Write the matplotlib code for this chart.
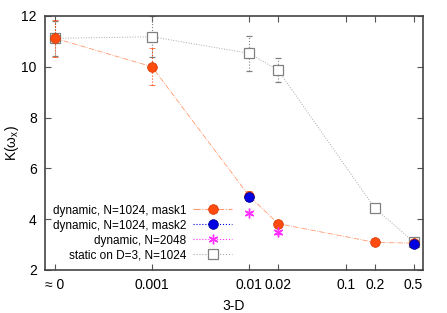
import matplotlib
matplotlib.use('Agg')
import matplotlib.pyplot as plt
import numpy as np
from matplotlib.lines import Line2D

plt.rcParams['font.family'] = ['Liberation Sans', 'DejaVu Sans']
plt.rcParams['mathtext.fontset'] = 'custom'
plt.rcParams['mathtext.rm'] = 'Liberation Sans'

# 3-D, "≈ 0" stands at 1e-4
x_mask1 = [1e-4, 0.001, 0.01, 0.02, 0.2, 0.5]
y_mask1 = [11.12, 10.0, 4.92, 3.82, 3.08, 3.05]
e_mask1 = [0.72, 0.72, 0.2, 0.05, 0.05, 0.05]

x_mask2 = [0.01, 0.5]
y_mask2 = [4.86, 3.03]
e_mask2 = [0.15, 0.05]

x_n2048 = [0.01, 0.02]
y_n2048 = [4.23, 3.47]
e_n2048 = [0.05, 0.05]

x_static = [1e-4, 0.001, 0.01, 0.02, 0.2, 0.5]
y_static = [11.12, 11.18, 10.53, 9.87, 4.42, 3.1]
e_static = [0.7, 0.8, 0.7, 0.48, 0.05, 0.05]

xticks = [1e-4, 0.001, 0.01, 0.02, 0.1, 0.2, 0.5]
xticklabels = ['≈ 0', '0.001', '0.01', '0.02', '0.1', '0.2', '0.5']

c_mask1 = '#ff4a10'
c_mask2 = '#0000e0'
c_n2048 = '#ff30ff'
c_static = '#808080'

fig = plt.figure(figsize=(4.47, 3.13), dpi=100)
ax = fig.add_axes([0.1007, 0.138, 0.845, 0.811])

eb = ax.errorbar(x_static, y_static, yerr=e_static, color='#a8a8a8', ls=':', lw=0.7,
                 marker='s', ms=7, mfc='white', mec=c_static, mew=0.9,
                 ecolor=c_static, elinewidth=0.8, capsize=2, zorder=2)
eb[-1][0].set_linestyle(':')

eb = ax.errorbar(x_mask1, y_mask1, yerr=e_mask1, color='#ff9a70', ls='-.', lw=0.6,
                 marker='o', ms=7, mfc=c_mask1, mec='#d03800', mew=0.5,
                 ecolor=c_mask1, elinewidth=0.8, capsize=2, zorder=3)
eb[-1][0].set_linestyle(':')

eb = ax.errorbar(x_mask2, y_mask2, yerr=e_mask2, color=c_mask2, ls='none',
                 marker='o', ms=7, mfc=c_mask2, mec='#000090', mew=0.5,
                 ecolor=c_mask2, elinewidth=0.8, capsize=2, zorder=4)
eb[-1][0].set_linestyle(':')

eb = ax.errorbar(x_n2048, y_n2048, yerr=e_n2048, color=c_n2048, ls='none',
                 marker=(6, 2, 0), ms=7, mew=1.0, mec=c_n2048,
                 ecolor=c_n2048, elinewidth=0.8, capsize=2, zorder=4)

ax.set_xscale('log')
ax.set_xlim(7.88e-5, 0.622)
ax.set_ylim(2, 12)
ax.set_xticks(xticks)
ax.set_xticklabels(xticklabels)
ax.minorticks_off()
ax.set_yticks([2, 4, 6, 8, 10, 12])
ax.tick_params(direction='in', top=True, right=True, length=4, width=0.8,
               labelsize=10, pad=6, color='#555555')
for s in ax.spines.values():
    s.set_linewidth(1.2)
    s.set_color('#444444')

ax.set_xlabel('3-D', fontsize=10, labelpad=5)
ax.set_ylabel(r'K(ω$_\mathrm{x}$)', fontsize=10, va='center')
ax.yaxis.set_label_coords(-0.087, 0.5)

handles = [
    Line2D([], [], color='#ff9a70', ls='-.', lw=0.8, marker='o', ms=7, mfc=c_mask1, mec='#d03800', mew=0.5),
    Line2D([], [], color=c_mask2, ls=':', lw=0.8, marker='o', ms=7, mfc=c_mask2, mec='#000090', mew=0.5),
    Line2D([], [], color=c_n2048, ls=':', lw=0.8, marker=(6, 2, 0), ms=7, mew=1.0),
    Line2D([], [], color='#a8a8a8', ls=':', lw=0.8, marker='s', ms=7, mfc='white', mec=c_static, mew=0.9),
]
labels = ['dynamic, N=1024, mask1', 'dynamic, N=1024, mask2',
          'dynamic, N=2048', 'static on D=3, N=1024']
ax.legend(handles, labels, loc='lower right', bbox_to_anchor=(0.515, 0.005),
          frameon=False, markerfirst=False, fontsize=8.5, handlelength=3.3,
          labelspacing=0.25, handletextpad=0.6, borderaxespad=0.2)

fig.savefig('out.png', dpi=100)
